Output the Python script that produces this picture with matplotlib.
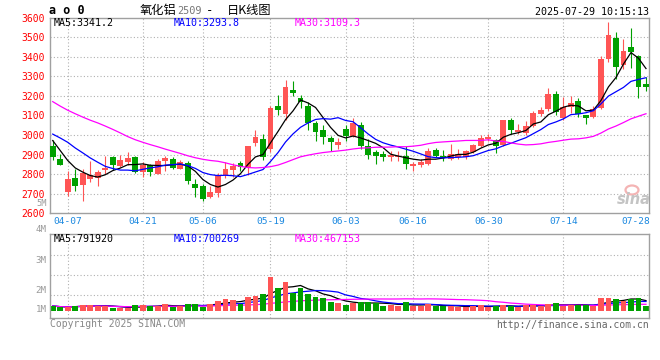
import matplotlib
matplotlib.use('Agg')
import matplotlib.pyplot as plt
import matplotlib.transforms as mtransforms
from matplotlib.patches import Ellipse
import numpy as np
import pandas as pd

# ---------------- data ----------------
dates = ['04-02','04-03','04-07','04-08','04-09','04-10','04-11','04-14','04-15','04-16',
         '04-17','04-18','04-21','04-22','04-23','04-24','04-25','04-28','04-29','04-30',
         '05-06','05-07','05-08','05-09','05-12','05-13','05-14','05-15','05-16','05-19',
         '05-20','05-21','05-22','05-23','05-26','05-27','05-28','05-29','05-30',
         '06-03','06-04','06-05','06-06','06-09','06-10','06-11','06-12','06-13','06-16',
         '06-17','06-18','06-19','06-20','06-23','06-24','06-25','06-26','06-27','06-30',
         '07-01','07-02','07-03','07-04','07-07','07-08','07-09','07-10','07-11','07-14',
         '07-15','07-16','07-17','07-18','07-21','07-22','07-23','07-24','07-25','07-28','07-29']

opens = [2946,2880,2708,2778,2747,2776,2781,2823,2888,2840,
         2863,2886,2813,2845,2803,2866,2880,2829,2858,2751,
         2742,2682,2705,2798,2820,2858,2832,2960,2981,2931,
         3150,3109,3231,3189,3151,3062,3027,2985,2951,3033,
         2993,3053,2946,2912,2905,2886,2888,2891,2840,2849,
         2854,2925,2895,2880,2888,2886,2912,2946,2980,2976,
         2951,3078,3016,3011,3044,3110,3133,3209,3087,3141,
         3172,3102,3090,3136,3388,3495,3359,3450,3405,3260]
highs = [2976,2904,2818,2824,2829,2866,2820,2891,2895,2898,
         2915,2895,2864,2854,2878,2893,2890,2875,2866,2773,
         2752,2742,2807,2863,2858,2866,2946,3027,3007,3148,
         3206,3279,3274,3206,3167,3070,3053,2993,2985,3053,
         3087,3065,2980,2925,2920,2917,2917,2942,2864,2878,
         2934,2934,2925,2956,2929,2923,2956,3002,3007,2981,
         3078,3087,3056,3070,3121,3145,3243,3223,3196,3201,
         3192,3104,3150,3405,3578,3527,3490,3546,3410,3298]
lows = [2874,2846,2691,2713,2662,2761,2738,2803,2823,2839,
        2849,2808,2788,2789,2803,2815,2827,2824,2752,2684,
        2662,2680,2682,2781,2786,2815,2798,2942,2871,2912,
        3104,3078,3201,3138,3027,2968,2955,2920,2929,2968,
        2990,2929,2880,2854,2866,2866,2866,2829,2815,2837,
        2849,2886,2866,2871,2880,2880,2910,2939,2968,2909,
        2946,3007,3007,3002,3043,3099,3121,3102,3078,3113,
        3094,3056,3085,3134,3374,3286,3337,3345,3187,3226]
closes = [2886,2849,2773,2738,2807,2798,2810,2832,2845,2871,
          2885,2813,2849,2810,2866,2883,2834,2863,2764,2727,
          2674,2708,2798,2829,2840,2837,2946,2990,2888,3139,
          3129,3248,3214,3167,3062,3014,2990,2963,2963,2997,
          3062,2942,2896,2891,2886,2896,2895,2853,2854,2861,
          2920,2895,2883,2904,2904,2920,2951,2985,2988,2946,
          3075,3024,3027,3044,3113,3128,3209,3116,3146,3163,
          3110,3085,3133,3391,3512,3350,3430,3425,3247,3248]
volumes = [0.235,0.17,0.17,0.235,0.285,0.285,0.235,0.235,0.12,0.12,
           0.12,0.285,0.285,0.235,0.235,0.335,0.17,0.235,0.335,0.335,
           0.17,0.335,0.485,0.585,0.535,0.335,0.685,0.735,0.835,1.685,
           1.15,1.435,0.885,1.15,0.835,0.685,0.635,0.45,0.385,0.285,
           0.385,0.435,0.435,0.385,0.235,0.285,0.235,0.435,0.235,0.235,
           0.335,0.235,0.235,0.235,0.17,0.17,0.235,0.285,0.17,0.235,
           0.285,0.235,0.17,0.285,0.285,0.235,0.335,0.385,0.235,0.285,
           0.285,0.285,0.235,0.635,0.635,0.585,0.485,0.585,0.635,0.235]

ma5_head = [2972, 2921, 2870, 2832]
ma10_head = [3005, 2985, 2963, 2934, 2909, 2883, 2861, 2840, 2829]
ma30_head = [3171, 3148, 3127, 3109, 3092, 3076, 3062, 3046, 3029, 3011,
             2992, 2976, 2963, 2951, 2940, 2928, 2917, 2906, 2894, 2884,
             2876, 2870, 2866, 2858, 2848, 2840, 2834, 2832, 2834]

date_ticks = ['04-07','04-21','05-06','05-19','06-03','06-16','06-30','07-14','07-28']
price_ticks = [2600, 2700, 2800, 2900, 3000, 3100, 3200, 3300, 3400, 3500, 3600]

title_name = '氧化铝'
title_code = '2509'
title_dash = '-'
title_kind = '日K线图'
timestamp = '2025-07-29 10:15:13'
ma_price_text = ['MA5:3341.2', 'MA10:3293.8', 'MA30:3109.3']
ma_vol_text = ['MA5:791920', 'MA10:700269', 'MA30:467153']
vol_labels = ['5M', '4M', '3M', '2M', '1M']

# ---------------- styles ----------------
RED = '#FF5555'
GREEN = '#00A000'
GRID = '#B0B0B0'
FRAME = '#A0A0A0'
MONO = 'DejaVu Sans Mono'
CJK = ['Noto Sans CJK SC', 'DejaVu Sans']

W, H = 660, 360
fig = plt.figure(figsize=(6.6, 3.6), dpi=100)
fig.patch.set_facecolor('white')

def fx(px):
    return px / W

def fy(py):
    return 1 - py / H

L, R = 50, 649.3
ax = fig.add_axes([fx(L), fy(213.3), fx(R - L), fy(17.7) - fy(213.3)])
axv = fig.add_axes([fx(L), fy(318.3), fx(R - L), fy(234.3) - fy(318.3)])

n = len(closes)
x = np.arange(n)
o = np.array(opens, float); c = np.array(closes, float)
h = np.array(highs, float); lo = np.array(lows, float)
up = c >= o
cols = np.where(up, RED, GREEN)

# moving averages
cs = pd.Series(c)
def ma(series, win, head):
    m = series.rolling(win).mean().to_numpy()
    m[:len(head)] = head
    return m
ma5 = ma(cs, 5, ma5_head)
ma10 = ma(cs, 10, ma10_head)
ma30 = ma(cs, 30, ma30_head)

for a in (ax, axv):
    a.set_xlim(-0.36, n - 1 + 0.44)
    for s in a.spines.values():
        s.set_color(FRAME)
        s.set_linewidth(1.0)
    a.tick_params(axis='both', length=0)
    a.set_xticks([])

gx = [dates.index(d) for d in date_ticks[:-1]]

# ---- main panel ----
ax.set_ylim(price_ticks[0], price_ticks[-1])
ax.set_yticks(price_ticks)
ax.set_yticklabels([str(p) for p in price_ticks], color='#FF0000',
                   fontsize=7, family=MONO)
ax.tick_params(axis='y', pad=3.5)
for p in price_ticks[1:-1]:
    ax.axhline(p, color=GRID, lw=0.8, ls=(0, (1, 2)), zorder=0)
for g in gx:
    ax.axvline(g, color=GRID, lw=0.8, ls=(0, (1, 2)), zorder=0)

ax.vlines(x, lo, h, colors=cols, lw=0.8, zorder=2)
body = np.maximum(np.abs(c - o), 3)
ax.bar(x, body, bottom=np.minimum(o, c), width=0.78, color=cols,
       linewidth=0, zorder=3)
ax.plot(x, ma5, color='black', lw=0.9, zorder=4)
ax.plot(x, ma10, color='#0000FF', lw=0.9, zorder=4)
ax.plot(x, ma30, color='#FF00FF', lw=0.9, zorder=4)

for txt, col, px in zip(ma_price_text, ['black', '#0000FF', '#FF00FF'], [54, 174, 295]):
    fig.text(fx(px), fy(23.5), txt, color=col, fontsize=7.2, family=MONO,
             ha='left', va='center')

trans = mtransforms.blended_transform_factory(ax.transData, ax.transAxes)
for i, d in enumerate(date_ticks):
    xi = dates.index(d)
    if i == len(date_ticks) - 1:
        fig.text(fx(650), fy(221), d, color='#1A88E0', fontsize=6.8, family=MONO,
                 ha='right', va='center')
    else:
        ax.text(xi, -0.04, d, transform=trans, color='#1A88E0', fontsize=6.8,
                family=MONO, ha='center', va='center', clip_on=False)

# sina watermark
fig.text(fx(634), fy(200), 'sina', color='#C4C4C4', fontsize=10.5,
         fontstyle='italic', fontweight='bold', ha='center', va='center')
fig.patches.append(Ellipse((fx(632), fy(190)), fx(13), 9 / H, fill=False,
                           edgecolor='#F4B4B4', lw=1.6, transform=fig.transFigure,
                           figure=fig))

# ---- volume panel ----
vol = np.array(volumes)
axv.set_ylim(-0.38, 3.82)
axv.set_yticks([])
for g in [0.785, 1.785, 2.785]:
    axv.axhline(g, color=GRID, lw=0.8, ls=(0, (1, 2)), zorder=0)
for g in gx:
    axv.axvline(g, color=GRID, lw=0.8, ls=(0, (1, 2)), zorder=0)
vs = pd.Series(vol)
axv.plot(x, vs.rolling(5, min_periods=1).mean(), color='black', lw=0.9, zorder=1)
axv.plot(x, vs.rolling(10, min_periods=1).mean(), color='#0000FF', lw=0.9, zorder=1)
axv.plot(x, vs.rolling(30, min_periods=1).mean(), color='#FF00FF', lw=0.9, zorder=1)
axv.bar(x, vol, bottom=0, width=0.78, color=cols, linewidth=0, zorder=2)

for txt, col, px in zip(ma_vol_text, ['black', '#0000FF', '#FF00FF'], [54, 174, 295]):
    fig.text(fx(px), fy(238.5), txt, color=col, fontsize=7.2, family=MONO,
             ha='left', va='center')

for lab, py, fs in zip(vol_labels, [203.5, 230, 260.5, 290.5, 310],
                       [6.2, 6.6, 6.6, 6.6, 6.6]):
    fig.text(fx(46.5), fy(py), lab, color='#999999', fontsize=fs, family=MONO,
             ha='right', va='center')

# ---- header / footer ----
fig.text(fx(49), fy(11), 'a o 0', fontsize=8.5, family=MONO, fontweight='bold',
         color='black', ha='left', va='center')
fig.text(fx(140), fy(10.5), title_name, fontsize=8.8, family=CJK, color='black',
         ha='left', va='center')
fig.text(fx(177.5), fy(11), title_code, fontsize=7.4, family=MONO, color='#777777',
         ha='left', va='center')
fig.text(fx(210), fy(10.5), title_dash, fontsize=8.8, family=MONO, color='black',
         ha='center', va='center')
fig.text(fx(227), fy(10.5), title_kind, fontsize=8.8, family=CJK, color='black',
         ha='left', va='center')
fig.text(fx(649), fy(12), timestamp, fontsize=7.2, family=MONO, color='black',
         ha='right', va='center')
fig.text(fx(50), fy(324), 'Copyright 2025 SINA.COM', fontsize=7, family=MONO,
         color='#888888', ha='left', va='center')
fig.text(fx(649), fy(324.5), 'http://finance.sina.com.cn', fontsize=7, family=MONO,
         color='#666666', ha='right', va='center')

fig.savefig('out.png', dpi=100, facecolor='white')
